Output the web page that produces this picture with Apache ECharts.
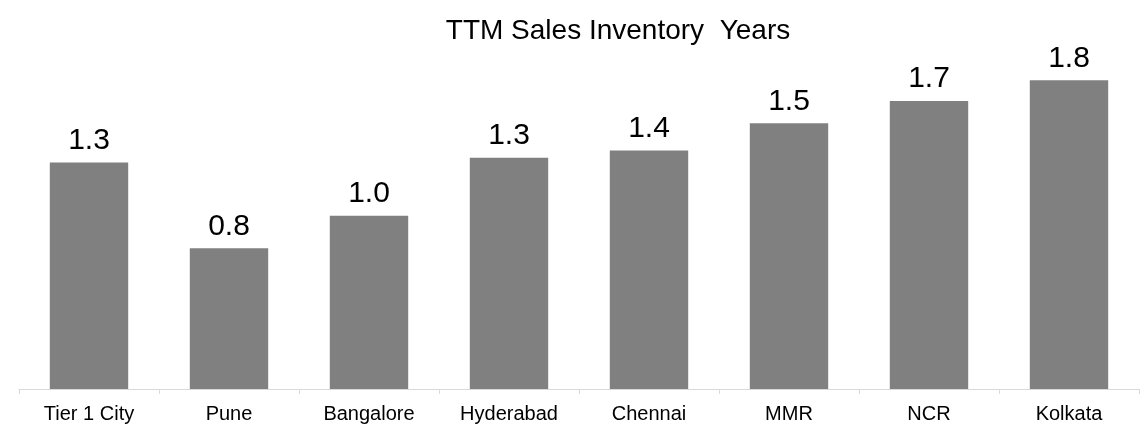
<!DOCTYPE html>
<html>
<head>
<meta charset="utf-8">
<title>TTM Sales Inventory Years</title>
<script src="https://cdn.jsdelivr.net/npm/echarts@6/dist/echarts.min.js"></script>
<style>
	*{ margin:0; padding:0; }
	#chart{ width:1148px; height:426px; background:#fff; }
</style>
</head>
<body>
<div id="chart"></div>
<script>
// data
var cities = ['Tier 1 City', 'Pune', 'Bangalore', 'Hyderabad', 'Chennai', 'MMR', 'NCR', 'Kolkata'];
var years = [1.32, 0.82, 1.01, 1.349, 1.39, 1.549, 1.68, 1.80];

var myChart = echarts.init(document.getElementById('chart'));
var option = {
	animation: false,
	title: {
		text: 'TTM Sales Inventory  Years',
		left: 613,
		textAlign: 'center',
		top: 12,
		textStyle: { color: '#000', fontFamily: 'Liberation Sans', fontSize: 28, fontWeight: 'normal' }
	},
	grid: { left: 19, right: 9, top: 46, bottom: 37 },
	xAxis: {
		type: 'category',
		data: cities,
		axisLine: { lineStyle: { color: '#d9d9d9', width: 1 } },
		axisTick: { show: true, length: 5, lineStyle: { color: '#d9d9d9' } },
		axisLabel: { color: '#000', fontFamily: 'Liberation Sans', fontSize: 20, margin: 15 }
	},
	yAxis: {
		type: 'value',
		min: 0,
		max: 2,
		show: false,
		splitLine: { show: false }
	},
	series: [{
		type: 'bar',
		data: years,
		barWidth: '56%',
		itemStyle: { color: '#808080' },
		label: {
			show: true,
			position: 'top',
			distance: 7,
			color: '#000',
			fontFamily: 'Liberation Sans',
			fontSize: 30,
			formatter: function (p) { return p.value.toFixed(1); }
		}
	}]
};
myChart.setOption(option);
</script>
</body>
</html>
